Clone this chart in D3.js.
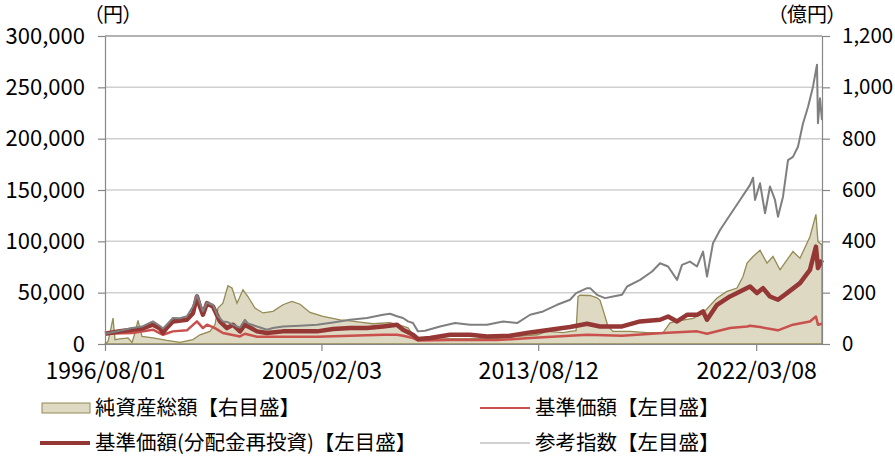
<!DOCTYPE html>
<html>
<head>
<meta charset="utf-8">
<script src="https://cdn.jsdelivr.net/npm/d3@7"></script>
<style>
  body { margin: 0; background: #fff; }
  text { font-family: "Noto Sans CJK JP", "Noto Sans", sans-serif; fill: #000; }
  .unit { font-feature-settings: "palt"; }
</style>
</head>
<body>
<div id="chart"></div>
<script>
// x axis tick dates
var tickDates = ["1996-08-01", "2005-02-03", "2013-08-12", "2022-03-08"];
var leftTicks = [0, 50000, 100000, 150000, 200000, 250000, 300000];
var rightTicks = [0, 200, 400, 600, 800, 1000, 1200];

// 純資産総額（億円）
var netAssets = [
  ["1996-08-01", 0], ["1996-09-13", 10], ["1996-10-12", 43], ["1996-11-24", 101], ["1996-12-23", 17],
  ["1997-03-04", 20], ["1997-06-27", 24], ["1997-08-24", 6], ["1997-10-06", 44], ["1997-11-18", 92],
  ["1998-01-14", 30], ["1998-06-20", 24], ["1999-01-07", 14], ["1999-07-13", 6], ["2000-01-16", 17],
  ["2000-04-25", 36], ["2000-09-16", 49], ["2000-11-27", 75], ["2001-01-09", 140], ["2001-03-21", 159],
  ["2001-06-01", 227], ["2001-07-29", 218], ["2001-10-09", 159], ["2002-01-03", 211], ["2002-03-15", 185],
  ["2002-06-24", 140], ["2002-10-17", 121], ["2003-03-10", 127], ["2003-07-31", 153], ["2003-12-08", 166],
  ["2004-04-01", 155], ["2004-08-22", 123], ["2005-02-25", 108], ["2005-10-27", 94], ["2006-03-20", 90],
  ["2006-08-11", 85], ["2007-02-13", 79], ["2007-10-15", 83], ["2008-04-19", 70], ["2008-06-30", 63],
  ["2008-09-09", 36], ["2008-11-20", 17], ["2010-02-23", 21], ["2011-12-31", 21], ["2012-10-13", 30],
  ["2013-07-27", 36], ["2013-12-17", 49], ["2014-08-04", 44], ["2014-11-13", 49], ["2015-02-07", 52],
  ["2015-03-07", 185], ["2015-04-05", 190], ["2015-08-27", 189], ["2015-12-05", 180], ["2016-01-17", 170],
  ["2016-02-29", 133], ["2016-05-11", 68], ["2016-07-22", 49], ["2017-03-23", 49], ["2017-11-22", 44],
  ["2018-07-10", 44], ["2018-10-18", 82], ["2019-03-11", 91], ["2019-09-13", 100], ["2020-02-04", 121],
  ["2020-08-23", 179], ["2021-01-13", 205], ["2021-06-06", 218], ["2021-08-31", 263], ["2021-10-28", 315],
  ["2022-01-22", 341], ["2022-05-02", 365], ["2022-08-10", 315], ["2022-11-04", 341], ["2023-02-13", 289],
  ["2023-05-24", 328], ["2023-08-18", 360], ["2023-11-27", 334], ["2024-04-18", 418], ["2024-07-13", 505],
  ["2024-08-11", 399], ["2024-10-08", 386]
];

// 基準価額（円）
var navPrice = [
  ["1996-08-01", 10000], ["1997-08-24", 10700], ["1998-06-20", 13900], ["1998-11-11", 9000], ["1999-04-03", 12300],
  ["1999-10-21", 13300], ["2000-03-13", 22000], ["2000-06-07", 15500], ["2000-08-04", 18800], ["2000-11-27", 15500],
  ["2001-03-21", 10700], ["2001-11-21", 7400], ["2002-01-31", 10000], ["2002-07-23", 7000], ["2003-07-31", 7000],
  ["2004-12-01", 7000], ["2006-03-20", 8000], ["2007-07-07", 9000], ["2008-01-24", 9000], ["2008-04-19", 8000],
  ["2008-09-09", 5800], ["2008-11-20", 3500], ["2010-02-23", 3800], ["2011-12-31", 3800], ["2013-04-18", 5800],
  ["2015-07-15", 9000], ["2016-11-28", 8100], ["2018-07-10", 10700], ["2019-11-10", 12300], ["2020-04-01", 10000],
  ["2021-02-25", 15500], ["2021-10-28", 17100], ["2021-12-10", 17800], ["2022-05-02", 16500], ["2023-01-15", 13300],
  ["2023-08-18", 18800], ["2024-04-18", 22000], ["2024-07-13", 26800], ["2024-08-11", 18800], ["2024-10-08", 19700]
];

// 基準価額（分配金再投資）（円）
var navReinvested = [
  ["1996-08-01", 10000], ["1997-03-04", 12500], ["1997-08-24", 13900], ["1998-01-14", 15000], ["1998-06-20", 18800],
  ["1998-09-29", 15000], ["1998-11-11", 11000], ["1999-01-07", 16000], ["1999-04-03", 22000], ["1999-10-21", 23600],
  ["2000-01-16", 30000], ["2000-03-13", 46300], ["2000-04-25", 36500], ["2000-06-07", 28500], ["2000-08-04", 39800],
  ["2000-09-16", 38000], ["2000-10-29", 36500], ["2001-02-06", 22000], ["2001-05-18", 15500], ["2001-08-12", 18800],
  ["2001-11-21", 12300], ["2002-01-31", 18800], ["2002-07-23", 12300], ["2002-12-13", 10700], ["2003-07-31", 12300],
  ["2004-12-01", 12300], ["2005-07-19", 14600], ["2006-03-20", 15500], ["2006-11-19", 15500], ["2007-07-07", 17100],
  ["2008-01-24", 18800], ["2008-04-19", 13900], ["2008-09-09", 9000], ["2008-11-20", 4900], ["2009-05-12", 5900],
  ["2010-02-23", 9000], ["2010-12-07", 9000], ["2011-08-09", 7400], ["2012-07-04", 8100], ["2013-04-18", 11300],
  ["2014-01-30", 13900], ["2014-11-13", 16500], ["2015-07-15", 19700], ["2016-01-17", 17100], ["2016-11-28", 17100],
  ["2017-08-14", 22000], ["2018-05-28", 23600], ["2018-09-20", 26800], ["2019-01-27", 22000], ["2019-06-19", 28400],
  ["2019-11-10", 28400], ["2020-02-04", 31700], ["2020-04-01", 23600], ["2020-08-23", 38200], ["2021-02-25", 46300],
  ["2021-07-19", 51100], ["2021-12-10", 56000], ["2022-03-20", 49600], ["2022-06-14", 54400], ["2022-09-22", 46300],
  ["2023-01-15", 43100], ["2023-05-24", 49600], ["2023-11-27", 59300], ["2024-04-18", 72200], ["2024-07-13", 94900],
  ["2024-08-11", 73900], ["2024-10-08", 81900]
];

// 参考指数（円）
var benchmark = [
  ["1996-08-01", 10000], ["1997-03-04", 13000], ["1997-08-24", 15500], ["1998-01-14", 17000], ["1998-06-20", 22000],
  ["1998-09-29", 17500], ["1998-11-11", 15000], ["1999-01-07", 19000], ["1999-04-03", 25300], ["1999-07-13", 25000],
  ["1999-10-21", 27000], ["2000-01-16", 36500], ["2000-03-13", 47900], ["2000-04-25", 39800], ["2000-06-07", 31700],
  ["2000-08-04", 40500], ["2000-09-16", 39000], ["2000-10-29", 38200], ["2001-01-09", 27000], ["2001-03-21", 22000],
  ["2001-05-18", 21500], ["2001-08-12", 18800], ["2001-10-09", 17100], ["2001-11-21", 16000], ["2002-01-31", 23600],
  ["2002-03-15", 20000], ["2002-07-23", 17100], ["2002-12-13", 13900], ["2003-03-10", 15500], ["2003-07-31", 17100],
  ["2004-04-01", 17800], ["2004-12-01", 18800], ["2005-07-19", 21000], ["2006-03-20", 23600], ["2006-11-19", 25300],
  ["2007-07-07", 28500], ["2007-10-15", 29500], ["2008-01-24", 27000], ["2008-04-19", 25300], ["2008-06-30", 22000],
  ["2008-09-09", 20400], ["2008-11-20", 12300], ["2009-03-01", 12900], ["2009-10-02", 17100], ["2010-05-06", 20400],
  ["2010-12-07", 18800], ["2011-08-09", 18800], ["2012-03-26", 22000], ["2012-10-13", 20400], ["2013-04-18", 28500],
  ["2013-10-21", 31700], ["2014-05-10", 38200], ["2014-11-13", 43100], ["2015-02-07", 49600], ["2015-07-15", 54400],
  ["2015-08-27", 54400], ["2015-12-05", 47900], ["2016-03-29", 44700], ["2016-07-22", 46300], ["2016-11-28", 47900],
  ["2017-02-08", 56000], ["2017-08-14", 62500], ["2018-02-02", 70600], ["2018-05-28", 78700], ["2018-09-20", 75500],
  ["2019-01-27", 62500], ["2019-04-08", 77100], ["2019-08-01", 80300], ["2019-11-10", 75500], ["2020-02-04", 90000],
  ["2020-04-01", 65700], ["2020-06-26", 98200], ["2020-10-05", 111100], ["2021-02-25", 125700], ["2021-07-19", 140300],
  ["2021-12-10", 155000], ["2022-01-22", 162000], ["2022-02-19", 140300], ["2022-05-02", 156600], ["2022-07-13", 127400],
  ["2022-09-22", 153400], ["2022-12-03", 140300], ["2023-01-15", 124000], ["2023-03-28", 143500], ["2023-06-08", 179100],
  ["2023-08-18", 182300], ["2023-10-29", 192100], ["2024-01-09", 214800], ["2024-03-21", 230900], ["2024-05-31", 250400],
  ["2024-07-28", 272000], ["2024-08-11", 215000], ["2024-09-09", 239300], ["2024-10-08", 218000]
];

var width = 895,
  height = 458;
var plotLeft = 105, plotRight = 822, plotTop = 36, plotBottom = 344;

var parse = d3.timeParse("%Y-%m-%d");

var svg = d3.select("#chart")
  .append("svg")
  .attr("width", width)
  .attr("height", height);

var x = d3.scaleTime()
  .domain([parse("1996-08-01"), parse("2024-10-08")])
  .range([plotLeft, plotRight]);
var yL = d3.scaleLinear().domain([0, 300000]).range([plotBottom, plotTop]);
var yR = d3.scaleLinear().domain([0, 1200]).range([plotBottom, plotTop]);

// gridlines
svg.append("g")
  .selectAll("line")
  .data(leftTicks.slice(1))
  .enter().append("line")
  .attr("x1", plotLeft).attr("x2", plotRight)
  .attr("y1", function(d) { return yL(d); })
  .attr("y2", function(d) { return yL(d); })
  .attr("stroke", function(d) { return d == 300000 ? "#9a9a9a" : "#d0d0d0"; })
  .attr("stroke-width", 1.5);

// series
var area = d3.area()
  .x(function(d) { return x(parse(d[0])); })
  .y0(yR(0))
  .y1(function(d) { return yR(d[1]); });

svg.append("path")
  .datum(netAssets)
  .attr("d", area)
  .attr("fill", "#ddd9c3")
  .attr("stroke", "#948a54")
  .attr("stroke-width", 1.3);

var line = d3.line()
  .x(function(d) { return x(parse(d[0])); })
  .y(function(d) { return yL(d[1]); });

svg.append("path").datum(navPrice).attr("d", line)
  .attr("fill", "none").attr("stroke", "#c9504d").attr("stroke-width", 2.5)
  .attr("stroke-linejoin", "round");
svg.append("path").datum(navReinvested).attr("d", line)
  .attr("fill", "none").attr("stroke", "#953735").attr("stroke-width", 4.5)
  .attr("stroke-linejoin", "round");
svg.append("path").datum(benchmark).attr("d", line)
  .attr("fill", "none").attr("stroke", "#7f7f7f").attr("stroke-width", 2)
  .attr("stroke-linejoin", "round");

// axes
var axisL = svg.append("g")
  .attr("transform", "translate(" + plotLeft + ",0)")
  .call(d3.axisLeft(yL).tickValues(leftTicks).tickFormat(d3.format(","))
    .tickSize(7).tickSizeOuter(0).tickPadding(13));
var axisR = svg.append("g")
  .attr("transform", "translate(" + plotRight + ",0)")
  .call(d3.axisRight(yR).tickValues(rightTicks).tickFormat(d3.format(","))
    .tickSize(8).tickSizeOuter(0).tickPadding(12));
var axisB = svg.append("g")
  .attr("transform", "translate(0," + plotBottom + ")")
  .call(d3.axisBottom(x).tickValues(tickDates.map(parse)).tickFormat(d3.timeFormat("%Y/%m/%d"))
    .tickSize(7).tickSizeOuter(0).tickPadding(12));

[axisL, axisR, axisB].forEach(function(g) {
  g.select(".domain").attr("stroke", "#868686").attr("stroke-width", 1.2);
  g.selectAll(".tick line").attr("stroke", "#868686").attr("stroke-width", 1.2);
  g.selectAll("text").attr("font-size", 22).attr("fill", "#000")
    .style("font-family", "'Noto Sans CJK JP', sans-serif");
});
axisR.selectAll("text").attr("font-size", 20.5);
axisB.selectAll("text").attr("font-size", 23);

// units
svg.append("text").attr("class", "unit")
  .attr("x", 113).attr("y", 15).attr("dy", "0.35em")
  .attr("text-anchor", "middle").attr("font-size", 20)
  .text("（円）");
svg.append("text").attr("class", "unit")
  .attr("x", 807).attr("y", 15).attr("dy", "0.35em")
  .attr("text-anchor", "middle").attr("font-size", 20)
  .text("（億円）");

// legend
var legend = svg.append("g");
legend.append("rect")
  .attr("x", 42).attr("y", 403).attr("width", 48).attr("height", 10)
  .attr("fill", "#ddd9c3").attr("stroke", "#948a54").attr("stroke-width", 1);
legend.append("line").attr("x1", 40).attr("x2", 90).attr("y1", 443).attr("y2", 443)
  .attr("stroke", "#953735").attr("stroke-width", 4);
legend.append("line").attr("x1", 480).attr("x2", 530).attr("y1", 408).attr("y2", 408)
  .attr("stroke", "#c9504d").attr("stroke-width", 2);
legend.append("line").attr("x1", 480).attr("x2", 530).attr("y1", 443).attr("y2", 443)
  .attr("stroke", "#a6a6a6").attr("stroke-width", 1.2);

var legendText = [
  [95, 408, "純資産総額【右目盛】"],
  [535, 408, "基準価額【左目盛】"],
  [95, 443, "基準価額(分配金再投資)【左目盛】"],
  [535, 443, "参考指数【左目盛】"]
];
legend.selectAll("text")
  .data(legendText)
  .enter().append("text")
  .attr("x", function(d) { return d[0]; })
  .attr("y", function(d) { return d[1]; })
  .attr("dy", "0.36em")
  .attr("font-size", 20.5)
  .text(function(d) { return d[2]; });
</script>
</body>
</html>
